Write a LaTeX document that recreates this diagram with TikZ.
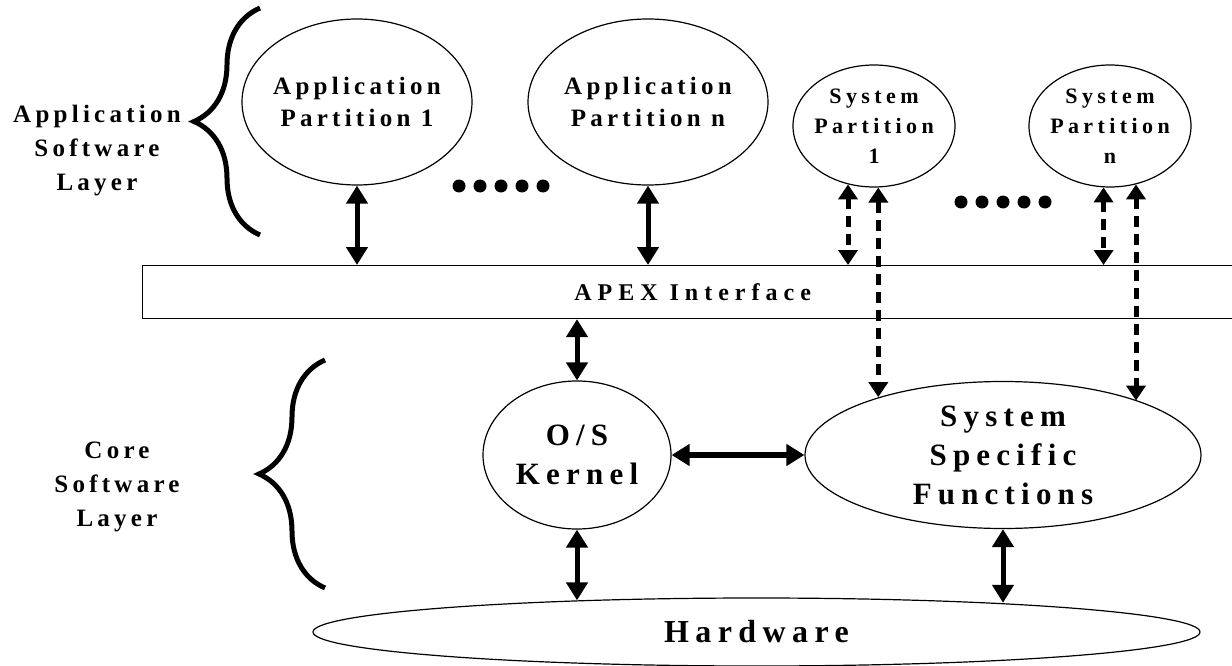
\documentclass[tikz,border=0pt]{standalone}
\usepackage{fontspec}
\setmainfont{Liberation Serif}
\newfontfamily\spacedfont{Liberation Serif}[LetterSpace=20]
\newfontfamily\narrowfont{Liberation Serif}[LetterSpace=17]
\newfontfamily\widefont{Liberation Serif}[LetterSpace=25]
\usepackage{tikz}
\usetikzlibrary{arrows.meta,shapes.geometric,decorations.pathreplacing}
\tikzset{
    part-ellipse/.style = {draw, line width=1.2pt, ellipse, inner sep=-20pt, align=center},
    small-text/.style = {font=\spacedfont\bfseries\fontsize{22}{30}\selectfont},
    mid-text/.style = {font=\narrowfont\bfseries\fontsize{25}{32}\selectfont},
    big-text/.style = {font=\spacedfont\bfseries\fontsize{31}{39}\selectfont},
    huge-text/.style = {font=\spacedfont\bfseries\fontsize{32}{40}\selectfont},
    layer-label/.style = {align=center, font=\narrowfont\bfseries\fontsize{25}{34}\selectfont},
    layer-brace/.style = {draw, line width=5pt, decorate, decoration={brace, amplitude=66pt}},
    apex-box/.style = {draw, line width=1.2pt, rectangle, anchor=north west, inner sep=0pt, font=\widefont\bfseries\fontsize{24}{30}\selectfont},
    two-way/.style = {line width=5pt, {Triangle[width=21pt,length=18pt]}-{Triangle[width=21pt,length=18pt]}},
    dashed-way/.style = {line width=5pt, dash pattern=on 11pt off 7pt, {Triangle[width=19pt,length=15pt]}-{Triangle[width=19pt,length=15pt]}},
}

\begin{document}
\begin{tikzpicture}[x=1pt,y=-1pt]
\clip (0,0) rectangle (1232,666);

\node[layer-label] (app-layer) at (97,151) {Application\\Software\\Layer};
\node[layer-label] (core-layer) at (117,487) {Core\\Software\\Layer};
\draw[layer-brace] (260,235) -- (260,8);
\draw[layer-brace] (325,588) -- (325,360);

\node[part-ellipse, mid-text, minimum width=230pt, minimum height=166pt] (app-1) at (357,102) {Application\\Partition 1};
\node[part-ellipse, mid-text, minimum width=240pt, minimum height=166pt] (app-n) at (648,102) {Application\\Partition n};
\node[part-ellipse, small-text, minimum width=162pt, minimum height=122pt] (sys-1) at (874,126) {System\\Partition\\1};
\node[part-ellipse, small-text, minimum width=162pt, minimum height=122pt] (sys-n) at (1110,126) {System\\Partition\\n};

\foreach \i in {0,...,4} {
    \fill (459+21*\i,186) circle (6.5pt);
    \fill (961+21*\i,202) circle (6.5pt);
}

\node[apex-box, minimum width=1100pt, minimum height=53pt] (apex) at (142,265) {APEX Interface};

\node[part-ellipse, big-text, minimum width=188pt, minimum height=148pt] (os) at (577,455) {O/S\\Kernel};
\node[part-ellipse, big-text, minimum width=396pt, minimum height=147pt] (ssf) at (1003,455) {System\\Specific\\Functions};
\node[part-ellipse, huge-text, minimum width=887pt, minimum height=68pt] (hw) at (756.5,632) {Hardware};

\draw[two-way] (app-1.south) -- (app-1.south |- apex.north);
\draw[two-way] (app-n.south) -- (app-n.south |- apex.north);
\draw[dashed-way] (sys-1.-114) -- (sys-1.-114 |- apex.north);
\draw[dashed-way] (sys-1.-86) -- (sys-1.-86 |- ssf.155);
\draw[dashed-way] (sys-n.-96) -- (sys-n.-96 |- apex.north);
\draw[dashed-way] (sys-n.-66) -- (sys-n.-66 |- ssf.22);
\draw[two-way] (os.north |- apex.south) -- (os.north);
\draw[two-way, line width=6pt] (os.east) -- (ssf.west);
\draw[two-way] (os.south) -- (os.south |- hw.170);
\draw[two-way] (ssf.south) -- (ssf.south |- hw.7);
\end{tikzpicture}
\end{document}
